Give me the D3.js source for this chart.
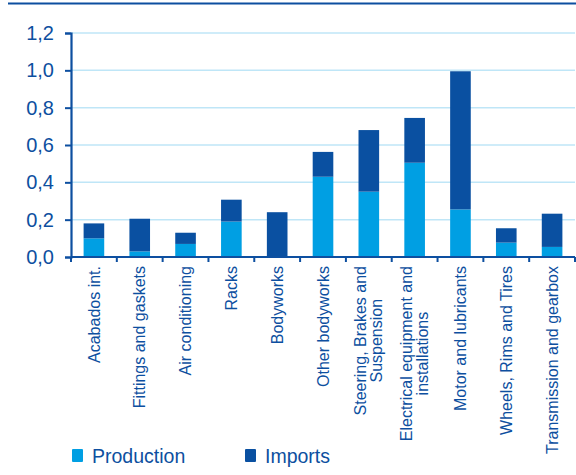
<!DOCTYPE html>
<html>
<head>
<meta charset="utf-8">
<script src="https://cdn.jsdelivr.net/npm/d3@7"></script>
<style>
  body { margin: 0; background: #fff; }
  text { font-family: "Liberation Sans", Arial, sans-serif; fill: #0d4fa0; }
</style>
</head>
<body>
<div id="chart"></div>
<script>
// Categories (line breaks as shown on the axis)
const categories = [
    ["Acabados int."],
    ["Fittings and gaskets"],
    ["Air conditioning"],
    ["Racks"],
    ["Bodyworks"],
    ["Other bodyworks"],
    ["Steering, Brakes and", "Suspension"],
    ["Electrical equipment and", "installations"],
    ["Motor and lubricants"],
    ["Wheels, Rims and Tires"],
    ["Transmission and gearbox"]
];
const production = [0.10, 0.03, 0.07, 0.19, 0.00, 0.43, 0.35, 0.505, 0.255, 0.077, 0.054];
const imports    = [0.08, 0.175, 0.06, 0.117, 0.24, 0.133, 0.33, 0.24, 0.74, 0.077, 0.178];
const yTicks = [0, 0.2, 0.4, 0.6, 0.8, 1.0, 1.2];
const seriesNames = ["Production", "Imports"];

const W = 576, H = 475;
const margin = { top: 33, right: 1, bottom: 218, left: 71 };
const width = W - margin.left - margin.right;
const height = H - margin.top - margin.bottom;

const colors = { Production: "#009fe3", Imports: "#0a50a1" };
const axisColor = "#0d4fa0";

const svg = d3.select("#chart").append("svg")
    .attr("width", W)
    .attr("height", H);

// Top rule
svg.append("line")
    .attr("x1", 8).attr("x2", W)
    .attr("y1", 3.5).attr("y2", 3.5)
    .attr("stroke", axisColor)
    .attr("stroke-width", 2);

const g = svg.append("g")
    .attr("transform", `translate(${margin.left},${margin.top})`);

const keys = categories.map((c, i) => i);
const x = d3.scaleBand()
    .domain(keys)
    .range([0, width])
    .paddingInner(0.55)
    .paddingOuter(0.275);

const y = d3.scaleLinear()
    .domain([0, 1.2])
    .range([height, 0]);

// Gridlines
g.selectAll(".grid")
    .data(yTicks.slice(1))
    .join("line")
    .attr("class", "grid")
    .attr("x1", 0).attr("x2", width)
    .attr("y1", d => y(d)).attr("y2", d => y(d))
    .attr("stroke", "#bfe6f7")
    .attr("stroke-width", 1.5);

// Stacked bars
const rows = keys.map(i => ({ Production: production[i], Imports: imports[i], i }));
const stacked = d3.stack().keys(seriesNames)(rows);

g.selectAll(".series")
    .data(stacked)
    .join("g")
    .attr("class", "series")
    .attr("fill", d => colors[d.key])
    .selectAll("rect")
    .data(d => d)
    .join("rect")
    .attr("x", d => x(d.data.i))
    .attr("width", x.bandwidth())
    .attr("y", d => y(d[1]))
    .attr("height", d => y(d[0]) - y(d[1]));

// Y axis
const yAxis = g.append("g")
    .call(d3.axisLeft(y)
        .tickValues(yTicks)
        .tickSize(6)
        .tickPadding(11)
        .tickFormat(d => d3.format(".1f")(d).replace(".", ",")));
yAxis.select(".domain").attr("stroke", axisColor).attr("stroke-width", 2.2);
yAxis.selectAll(".tick line").attr("stroke", axisColor).attr("stroke-width", 2);
yAxis.selectAll(".tick text")
    .attr("fill", axisColor)
    .style("font-size", "20px");

// X axis line with ticks on band boundaries
const step = x.step();
g.append("line")
    .attr("x1", 0).attr("x2", width)
    .attr("y1", height).attr("y2", height)
    .attr("stroke", axisColor)
    .attr("stroke-width", 2.2);

g.selectAll(".xtick")
    .data(d3.range(categories.length + 1))
    .join("line")
    .attr("class", "xtick")
    .attr("x1", d => d * step).attr("x2", d => d * step)
    .attr("y1", height).attr("y2", height + 5)
    .attr("stroke", axisColor)
    .attr("stroke-width", 2);

// Rotated category labels
const lineGap = 16;
const labels = g.selectAll(".xlabel")
    .data(categories)
    .join("text")
    .attr("class", "xlabel")
    .style("font-size", "16px")
    .attr("transform", (d, i) => {
        const cx = x(i) + x.bandwidth() / 2;
        return `translate(${cx},${height + 9}) rotate(-90)`;
    })
    .attr("text-anchor", d => d.length > 1 ? "middle" : "end");

labels.each(function(d) {
    const t = d3.select(this);
    const n = d.length;
    const spans = d.map((line, k) => t.append("tspan")
        .attr("y", (k - (n - 1) / 2) * lineGap)
        .attr("dy", "0.35em")
        .text(line));
    // Wrapped labels: centre lines on the block whose top sits at the axis
    let shift = 0;
    if (n > 1) {
        const longest = d3.max(spans, s => s.node().getComputedTextLength());
        shift = -longest / 2;
    }
    spans.forEach(s => s.attr("x", shift));
});

// Legend
const legend = svg.append("g")
    .attr("transform", "translate(72,449)");

[["Production", 0], ["Imports", 173]].forEach(([name, dx]) => {
    legend.append("rect")
        .attr("x", dx).attr("y", 0)
        .attr("width", 11).attr("height", 13)
        .attr("rx", 1)
        .attr("fill", colors[name]);
    legend.append("text")
        .attr("x", dx + 20)
        .attr("y", 13.5)
        .style("font-size", "19.5px")
        .text(name);
});
</script>
</body>
</html>
